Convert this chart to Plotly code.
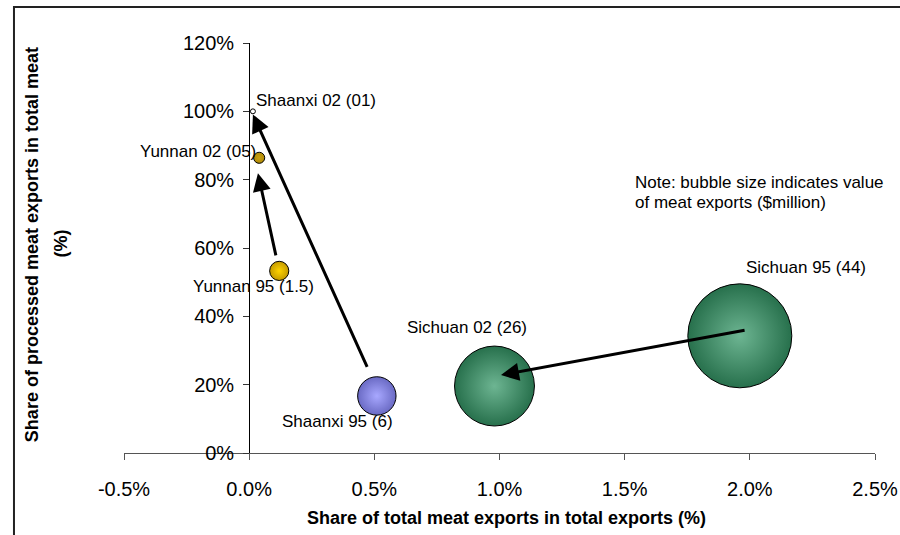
import plotly.graph_objects as go

# Regional meat exports, 1995 vs 2002
regions = ["Shaanxi 95", "Shaanxi 02", "Yunnan 95", "Yunnan 02", "Sichuan 95", "Sichuan 02"]
export_value = [6, 0.1, 1.5, 0.5, 44, 26]            # value of meat exports ($million)
value_text = ["6", "01", "1.5", "05", "44", "26"]
meat_share_total = [0.51, 0.015, 0.12, 0.04, 1.96, 0.98]   # % of total exports
processed_share = [16.7, 100.0, 53.3, 86.4, 34.3, 19.6]    # % of total meat exports

# Movement from 1995 to 2002 (tail -> head), in axis units
arrow_from_x = [0.474, 0.108, 1.985]
arrow_from_y = [24.8, 57.4, 36.0]
arrow_to_x = [0.015, 0.035, 1.006]
arrow_to_y = [99.1, 81.9, 22.8]

x_tick_vals = [-0.5, 0.0, 0.5, 1.0, 1.5, 2.0, 2.5]
x_tick_text = ["-0.5%", "0.0%", "0.5%", "1.0%", "1.5%", "2.0%", "2.5%"]
y_tick_vals = [0, 20, 40, 60, 80, 100, 120]
y_tick_text = ["0%", "20%", "40%", "60%", "80%", "100%", "120%"]

X_RANGE = [-0.5, 2.5]
Y_RANGE = [0, 120]

FONT = "Liberation Sans, Arial, sans-serif"

# bubble styling: (edge colour, centre colour)
styles = {
    "Shaanxi 95": ("#6A6AC4", "#A8A8FF"),
    "Shaanxi 02": ("#FFFFFF", "#FFFFFF"),
    "Yunnan 95": ("#C49A00", "#FFD400"),
    "Yunnan 02": ("#B08A08", "#C9A012"),
    "Sichuan 95": ("#27704C", "#6DB592"),
    "Sichuan 02": ("#27704C", "#6DB592"),
}

# label placement relative to its bubble centre (pixels)
label_place = {
    "Shaanxi 95": dict(xanchor="center", xshift=-39, yshift=-26),
    "Shaanxi 02": dict(xanchor="left", xshift=1, yshift=11),
    "Yunnan 95": dict(xanchor="center", xshift=-26, yshift=-16),
    "Yunnan 02": dict(xanchor="right", xshift=-1, yshift=6),
    "Sichuan 95": dict(xanchor="center", xshift=66, yshift=68),
    "Sichuan 02": dict(xanchor="center", xshift=-27, yshift=59),
}

MAX_DIAMETER = 104
sizeref = 2.0 * max(export_value) / MAX_DIAMETER ** 2

fig = go.Figure()
for name, xv, yv, val in zip(regions, meat_share_total, processed_share, export_value):
    edge, centre = styles[name]
    fig.add_trace(go.Scatter(
        x=[xv], y=[yv], mode="markers", name=name,
        marker=dict(
            size=[val], sizemode="area", sizeref=sizeref,
            color=edge,
            gradient=dict(type="radial", color=centre),
            line=dict(color="#000000", width=1),
            opacity=1,
        ),
        cliponaxis=False,
        hoverinfo="skip",
    ))

annotations = []
for name, txt, xv, yv in zip(regions, value_text, meat_share_total, processed_share):
    place = label_place[name]
    annotations.append(dict(
        x=xv, y=yv, xref="x", yref="y",
        text=f"{name} ({txt})", showarrow=False,
        font=dict(family=FONT, size=17, color="#000000"),
        yanchor="middle", **place,
    ))

for fx, fy, tx, ty in zip(arrow_from_x, arrow_from_y, arrow_to_x, arrow_to_y):
    annotations.append(dict(
        x=tx, y=ty, xref="x", yref="y",
        ax=fx, ay=fy, axref="x", ayref="y",
        text="", showarrow=True,
        arrowhead=2, arrowsize=1.2, arrowwidth=3, arrowcolor="#000000",
        standoff=0, startstandoff=0,
    ))

# note (two lines)
annotations.append(dict(
    x=0.678, y=0.659, xref="paper", yref="paper",
    text="Note: bubble size indicates value",
    showarrow=False, align="left", xanchor="left", yanchor="middle",
    font=dict(family=FONT, size=17, color="#000000"),
))
annotations.append(dict(
    x=0.678, y=0.612, xref="paper", yref="paper",
    text="of meat exports ($million)",
    showarrow=False, align="left", xanchor="left", yanchor="middle",
    font=dict(family=FONT, size=17, color="#000000"),
))

# axis titles
annotations.append(dict(
    x=0.5087, y=-0.1585, xref="paper", yref="paper",
    text="<b>Share of total meat exports in total exports (%)</b>",
    showarrow=False, xanchor="center", yanchor="middle",
    font=dict(family=FONT, size=18, color="#000000"),
))
annotations.append(dict(
    x=-0.1225, y=0.507, xref="paper", yref="paper",
    text="<b>Share of processed meat exports in total meat</b>",
    showarrow=False, xanchor="center", yanchor="middle", textangle=-90,
    font=dict(family=FONT, size=18, color="#000000"),
))
annotations.append(dict(
    x=-0.0826, y=0.511, xref="paper", yref="paper",
    text="<b>(%)</b>",
    showarrow=False, xanchor="center", yanchor="middle", textangle=-90,
    font=dict(family=FONT, size=18, color="#000000"),
))

y_axis_pos = (0 - X_RANGE[0]) / (X_RANGE[1] - X_RANGE[0])

fig.update_layout(
    width=900, height=535,
    margin=dict(l=124, r=25, t=43, b=82, autoexpand=False),
    paper_bgcolor="#FFFFFF", plot_bgcolor="#FFFFFF",
    showlegend=False,
    annotations=annotations,
    xaxis=dict(
        range=X_RANGE, showgrid=False, zeroline=False, automargin=False,
        showline=True, linecolor="#555555", linewidth=1,
        ticks="outside", ticklen=6, tickcolor="#555555", tickwidth=1,
        tickvals=x_tick_vals, ticktext=x_tick_text,
        ticklabelstandoff=12,
        tickfont=dict(family=FONT, size=20, color="#000000"),
        fixedrange=True,
    ),
    yaxis=dict(
        range=Y_RANGE, showgrid=False, zeroline=False, automargin=False,
        anchor="free", position=y_axis_pos,
        showline=True, linecolor="#000000", linewidth=1,
        ticks="outside", ticklen=6, tickcolor="#333333", tickwidth=1,
        tickvals=y_tick_vals, ticktext=y_tick_text,
        ticklabelstandoff=5,
        tickfont=dict(family=FONT, size=20, color="#000000"),
        fixedrange=True,
    ),
    shapes=[dict(
        type="rect", xref="paper", yref="paper",
        x0=-0.1465, x1=1.05, y0=-0.25, y1=1.0878,
        line=dict(color="#222222", width=2), fillcolor="rgba(0,0,0,0)",
        layer="below",
    )],
)

fig.write_html("out.html")
